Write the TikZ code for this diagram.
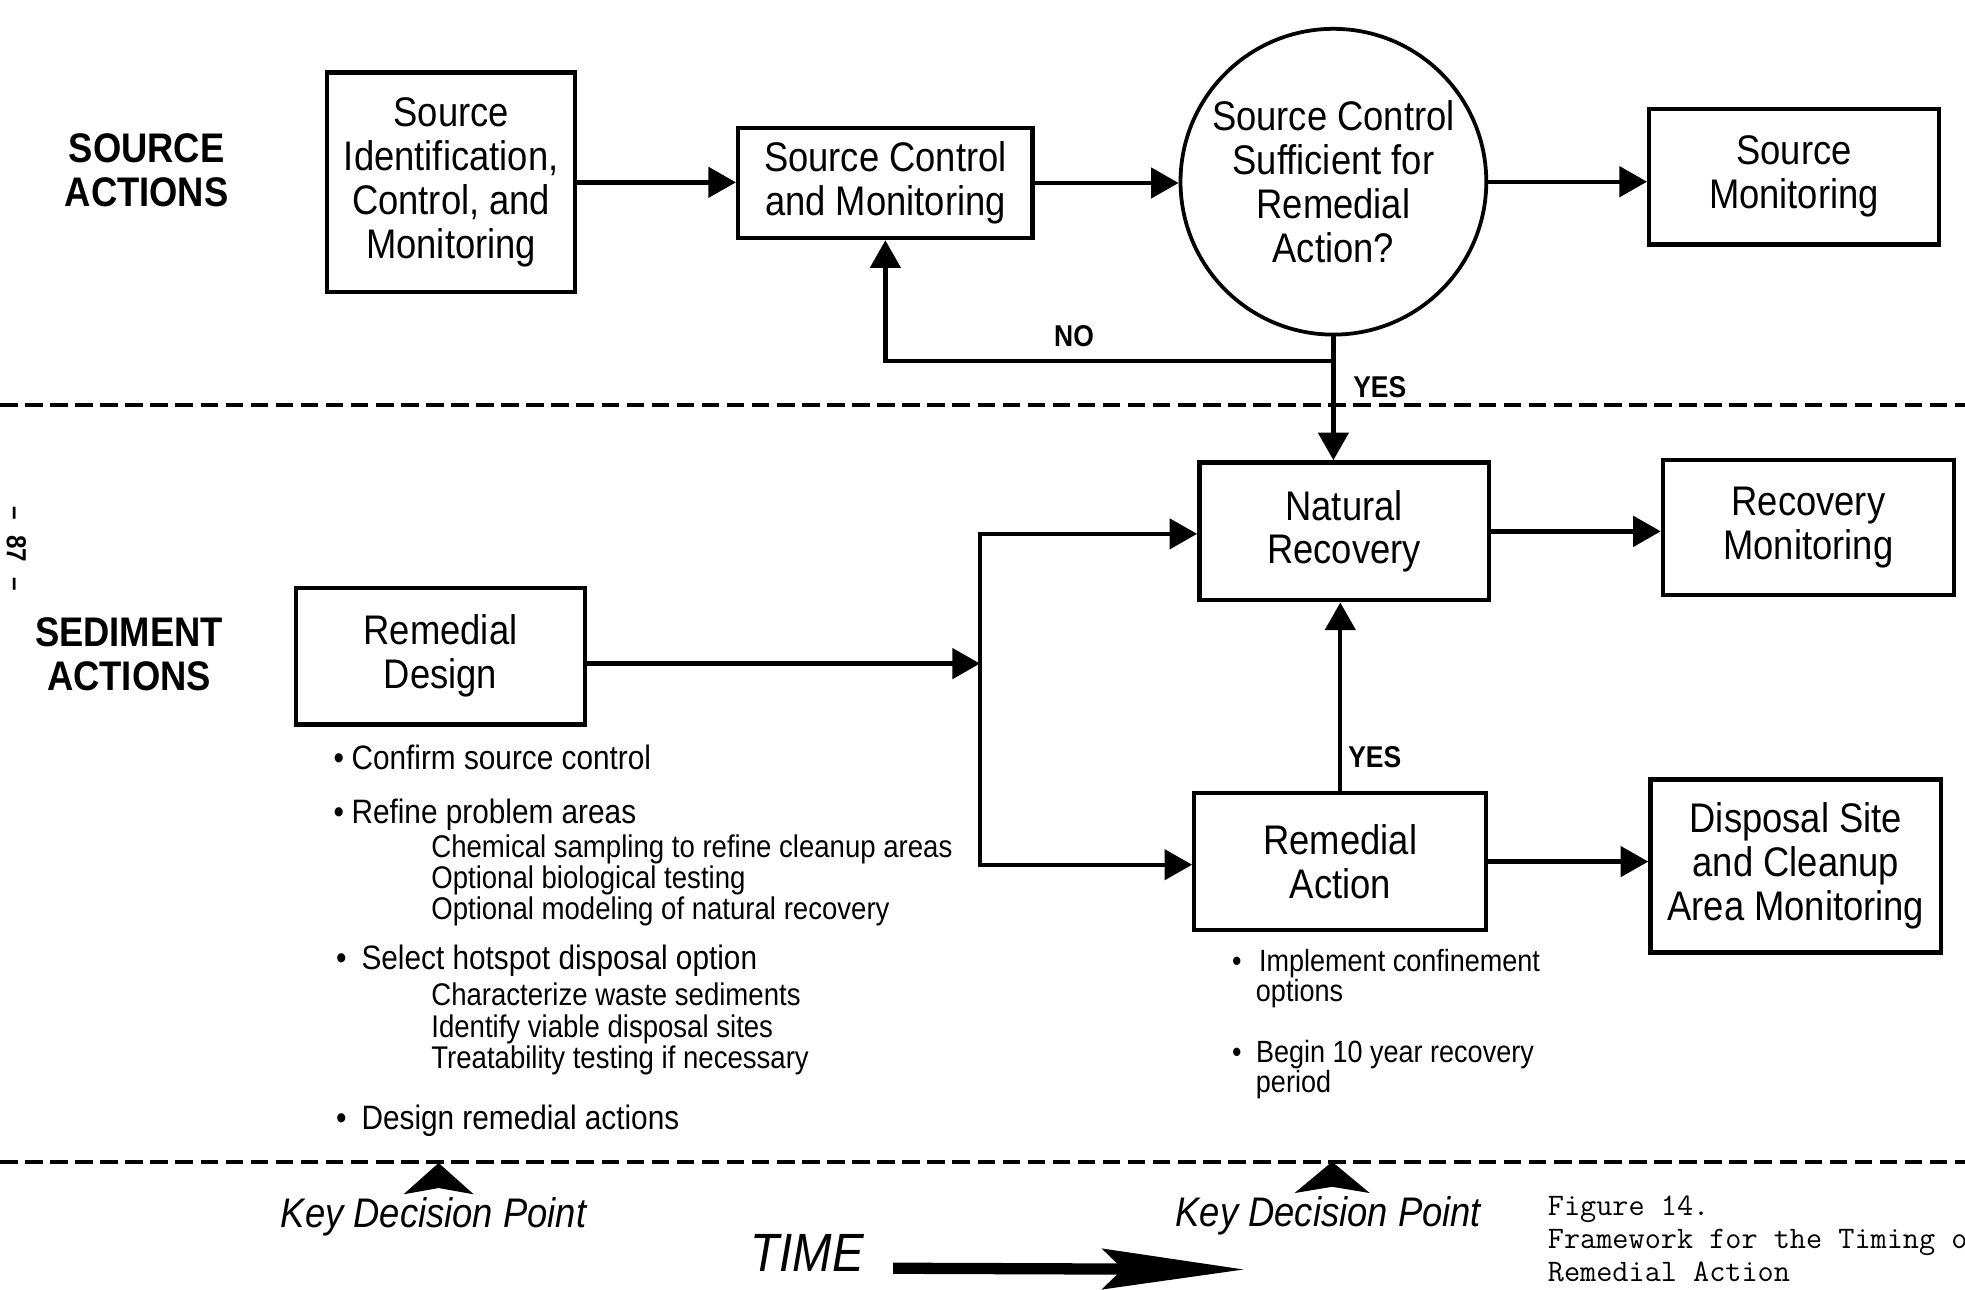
\documentclass[tikz,border=0pt]{standalone}
\usepackage{fontspec}
\setmainfont{Liberation Sans}[FakeStretch=0.88]
\usetikzlibrary{arrows.meta}
\begin{document}
\begin{tikzpicture}[x=1pt,y=-1pt,
  box/.style={draw, line width=3.5pt, rectangle, align=center, inner sep=0pt, font=\fontsize{33}{35}\selectfont},
  decision/.style={draw, circle, line width=3pt, align=center, inner sep=0pt, font=\fontsize{33}{35}\selectfont},
  arr/.style={line width=3.5pt, -{Triangle[length=22pt,width=24pt]}},
  ln/.style={line width=3.5pt},
  sec/.style={font=\bfseries\fontsize{33}{35}\selectfont, align=center},
  lbl/.style={font=\bfseries\fontsize{24}{26}\selectfont},
  item/.style={anchor=base west, inner sep=0pt, font=\fontsize{27}{29}\selectfont},
  subitem/.style={anchor=base west, inner sep=0pt, font=\fontsize{25}{25}\selectfont},
  ritem/.style={anchor=base west, inner sep=0pt, font=\fontsize{24.5}{24}\selectfont},
  kdp/.style={font=\itshape\fontsize{33}{35}\selectfont},
  divider/.style={line width=3pt, dash pattern=on 14pt off 6pt},
  kdtri/.style={fill=black}
]
\fill[white] (0,0) rectangle (1568,1029);
\useasboundingbox (0,0) rectangle (1568,1029);

% dividers
\draw[divider] (0,323) -- (1568,323);
\draw[divider] (0,927) -- (1568,927);

% section labels
\node[sec] (srcact) at (117,136) {SOURCE\\ACTIONS};
\node[sec] (sedact) at (103,522) {SEDIMENT\\ACTIONS};
\node[rotate=-90, inner sep=0pt, font=\bfseries\fontsize{22}{24}\selectfont] (pg) at (13,438) {–\hspace{12pt}87\hspace{12pt}–};

% source row
\node[box, minimum width=198pt, minimum height=175pt] (A) at (360,145.5) {Source\\Identification,\\Control, and\\Monitoring};
\node[box, minimum width=235pt, minimum height=88pt] (B) at (706.5,146) {Source Control\\and Monitoring};
\node[decision, minimum size=244pt] (C) at (1064,145) {Source Control\\Sufficient for\\Remedial\\Action?};
\node[box, minimum width=231pt, minimum height=108pt] (D) at (1431.5,141) {Source\\Monitoring};

% sediment row
\node[box, minimum width=231pt, minimum height=109pt] (E) at (351.5,523.5) {Remedial\\Design};
\node[box, minimum width=231pt, minimum height=110pt] (F) at (1072.5,424) {Natural\\Recovery};
\node[box, minimum width=232pt, minimum height=108pt] (G) at (1443,421) {Recovery\\Monitoring};
\node[box, minimum width=233pt, minimum height=109pt] (H) at (1069.5,687.5) {Remedial\\Action};
\node[box, minimum width=232pt, minimum height=138pt] (I) at (1433,691) {Disposal Site\\and Cleanup\\Area Monitoring};

% connectors, source row
\draw[arr] (A.east) -- (A.east -| B.west);
\draw[arr] (B.east) -- (B.east -| C.west);
\draw[arr] (C.east) -- (C.east -| D.west);
\coordinate (nj) at (1064,288);
\draw[ln] (C.south) -- (nj);
\draw[arr] (nj) -| (B.south);
\draw[arr] (nj) -- (nj |- F.north);
\node[lbl] (no) at (857,268) {NO};
\node[lbl] (yes1) at (1101,309) {YES};

% connectors, sediment row
\coordinate (v1) at (782,426);
\coordinate (v2) at (782,690);
\draw[arr] ([yshift=-6pt]E.east) -- ([yshift=-6pt]E.east -| v1);
\draw[arr] (v2) -- (v1) -- (v1 -| F.west);
\draw[arr] (v1) -- (v2) -- (v2 -| H.west);
\draw[arr] (F.east) -- (F.east -| G.west);
\draw[arr] (H.north) -- (H.north |- F.south);
\draw[arr] (H.east) -- (H.east -| I.west);
\node[lbl] (yes2) at (1097,604) {YES};

% remedial design items
\node[item] (i1) at (266,614) {•\hspace{6pt}Confirm source control};
\node[item] (i2) at (266,657) {•\hspace{6pt}Refine problem areas};
\node[subitem] (s1) at (344,684) {Chemical sampling to refine cleanup areas};
\node[subitem] (s2) at (344,709) {Optional biological testing};
\node[subitem] (s3) at (344,734) {Optional modeling of natural recovery};
\node[item] (i3) at (268,774) {•\hspace{12pt}Select hotspot disposal option};
\node[subitem] (s4) at (344,802) {Characterize waste sediments};
\node[subitem] (s5) at (344,828) {Identify viable disposal sites};
\node[subitem] (s6) at (344,853) {Treatability testing if necessary};
\node[item] (i4) at (268,901) {•\hspace{12pt}Design remedial actions};

% remedial action items
\node[ritem] (r1) at (983,775) {•\hspace{14pt}Implement confinement};
\node[ritem] (r1b) at (1002,799) {options};
\node[ritem] (r2) at (983,848) {•\hspace{11.5pt}Begin 10 year recovery};
\node[ritem] (r2b) at (1002,872) {period};

% key decision points
\fill[kdtri] (350,928) -- (378,953) -- (350,948) -- (322,953) -- cycle;
\fill[kdtri] (1063,927) -- (1093,952) -- (1063,947) -- (1033,952) -- cycle;
\node[kdp] (kdp1) at (346,971) {Key Decision Point};
\node[kdp] (kdp2) at (1060,970) {Key Decision Point};

% time arrow
\node[font=\itshape\fontsize{43}{45}\selectfont] (time) at (644,1000) {TIME};
\coordinate (tend) at (993,1013);
\draw[line width=9pt, -{Stealth[length=113pt,width=32pt,inset=16pt]}] ([xshift=20pt,yshift=-12pt]time.east) -- (tend);

% caption
\node[anchor=north west, inner sep=0pt, align=left, font=\ttfamily\addfontfeature{FakeBold=1.2}\fontsize{25}{26.5}\selectfont] (cap) at (1235,954) {Figure 14.\\Framework for the Timing of\\Remedial Action};
\end{tikzpicture}
\end{document}
